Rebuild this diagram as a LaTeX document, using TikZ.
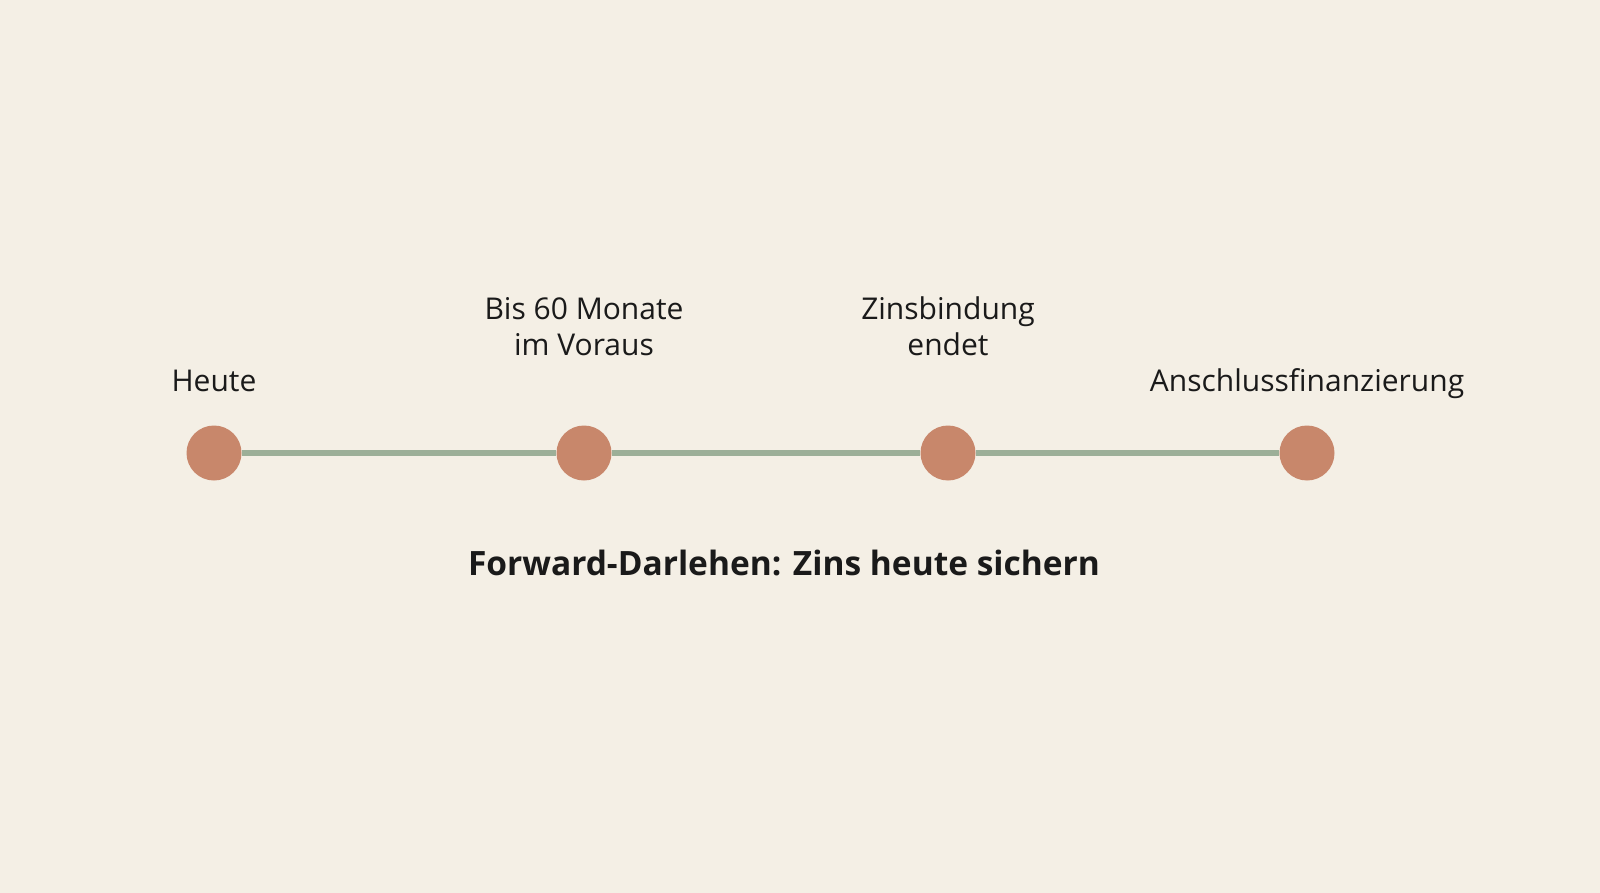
\documentclass[tikz,border=0pt]{standalone}
\usepackage{fontspec}
\setmainfont{Open Sans}
\definecolor{bg}{HTML}{F4EFE5}
\definecolor{dot}{HTML}{C8876B}
\definecolor{track}{HTML}{9CAF98}
\definecolor{ink}{HTML}{1A1A1A}
\begin{document}
\begin{tikzpicture}[x=1pt,y=-1pt,
  milestone/.style={circle,fill=dot,minimum size=55pt,inner sep=0pt},
  lbl/.style={font=\fontsize{30}{36}\selectfont,text=ink,align=center,anchor=base,inner sep=0pt},
  ttl/.style={font=\fontsize{33.5}{40}\selectfont\bfseries,text=ink,anchor=base,inner sep=0pt}]
\fill[bg] (0,0) rectangle (1600,893);
\useasboundingbox (0,0) rectangle (1600,893);
\node[milestone] (m1) at (214,453) {};
\node[milestone] (m2) at (584,453) {};
\node[milestone] (m3) at (948,453) {};
\node[milestone] (m4) at (1307,453) {};
\draw[track,line width=6pt] (m1) -- (m2);
\draw[track,line width=6pt] (m2) -- (m3);
\draw[track,line width=6pt] (m3) -- (m4);
\node[lbl] (l1) at (214,391) {Heute};
\node[lbl] (l2) at (584,355) {Bis 60 Monate\\im Voraus};
\node[lbl] (l3) at (948,355) {Zinsbindung\\endet};
\node[lbl] (l4) at (1307,391) {Anschlussfinanzierung};
\node[ttl] (t) at (784,575) {Forward-Darlehen: Zins heute sichern};
\end{tikzpicture}
\end{document}
